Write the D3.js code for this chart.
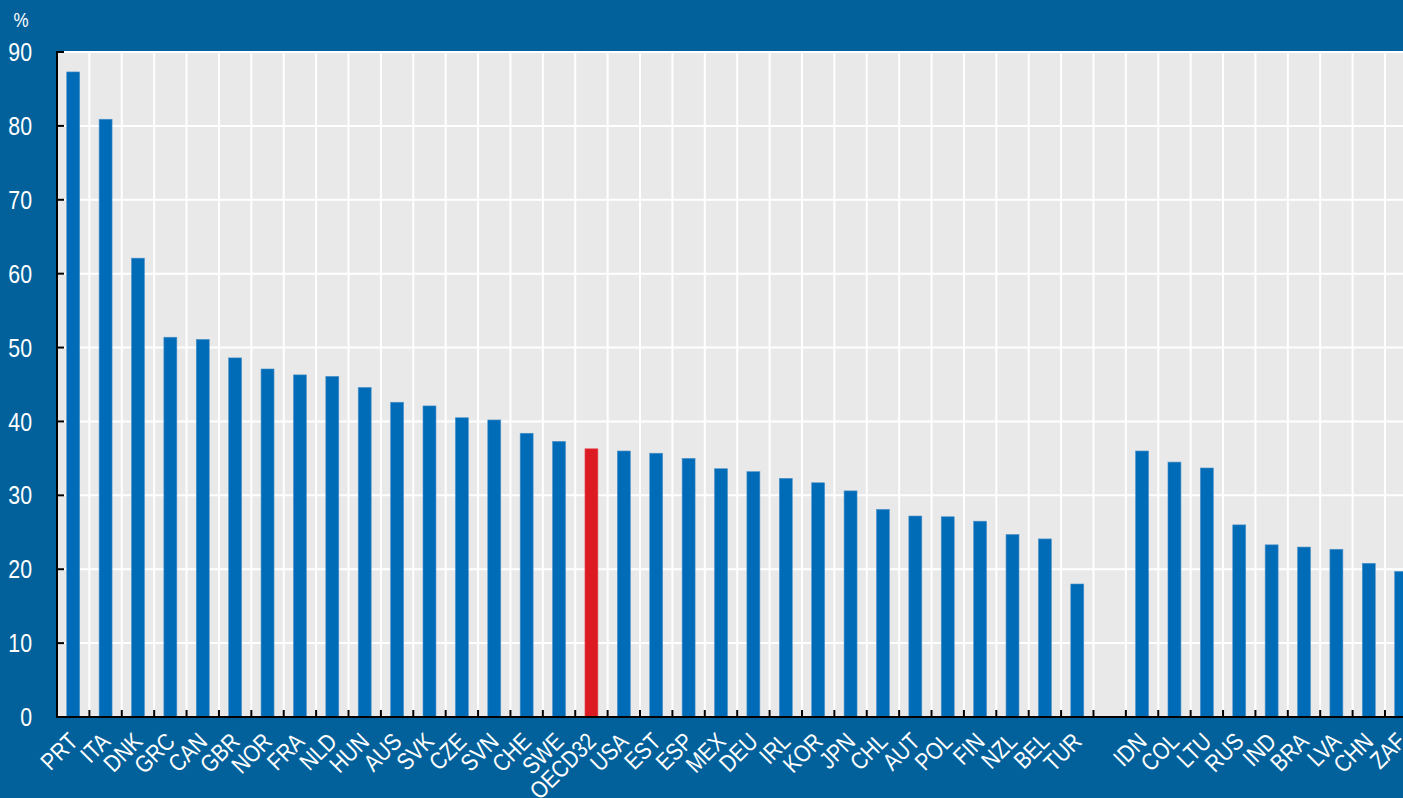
<!DOCTYPE html>
<html>
<head>
<meta charset="utf-8">
<script src="https://cdn.jsdelivr.net/npm/d3@7"></script>
<style>
  body { margin: 0; background: #02619a; overflow: hidden; }
  text { fill: #fff; font-family: "Liberation Sans", Arial, sans-serif; }
</style>
</head>
<body>
<script>
// OECD countries, sorted, with the OECD average in the middle
var oecdCountries = ["PRT","ITA","DNK","GRC","CAN","GBR","NOR","FRA","NLD","HUN","AUS","SVK","CZE","SVN","CHE","SWE","OECD32",
                     "USA","EST","ESP","MEX","DEU","IRL","KOR","JPN","CHL","AUT","POL","FIN","NZL","BEL","TUR"];
var oecdValues = [87.3,80.9,62.1,51.4,51.1,48.6,47.1,46.3,46.1,44.6,42.6,42.1,40.5,40.2,38.4,37.3,36.3,
                  36.0,35.7,35.0,33.6,33.2,32.3,31.7,30.6,28.1,27.2,27.1,26.5,24.7,24.1,18.0];
// partner economies, after a gap
var partnerCountries = ["IDN","COL","LTU","RUS","IND","BRA","LVA","CHN","ZAF"];
var partnerValues = [36.0,34.5,33.7,26.0,23.3,23.0,22.7,20.8,19.7];
var yTicks = [0,10,20,30,40,50,60,70,80,90];
var highlight = "OECD32";

var W = 1403, H = 798;
var plotLeft = 57, plotTop = 52, plotBottom = 717, band = 32.39;

var gapKey = "_gap";
var domain = oecdCountries.concat([gapKey], partnerCountries);
var data = oecdCountries.map(function(c, i){ return {c: c, v: oecdValues[i]}; })
    .concat(partnerCountries.map(function(c, i){ return {c: c, v: partnerValues[i]}; }));

var x = d3.scaleBand()
    .domain(domain)
    .range([plotLeft, plotLeft + band * domain.length])
    .padding(0);

var y = d3.scaleLinear()
    .domain([0, 90])
    .range([plotBottom, plotTop]);

var svg = d3.select("body").append("svg")
    .attr("width", W)
    .attr("height", H);

// plot background
svg.append("rect")
    .attr("x", plotLeft)
    .attr("y", plotTop)
    .attr("width", x.range()[1] - plotLeft)
    .attr("height", plotBottom - plotTop)
    .style("fill", "#e9e9e9");

// horizontal gridlines
svg.selectAll(".hgrid")
    .data(yTicks.filter(function(d){ return d > 0; }))
    .enter().append("line")
    .attr("class", "hgrid")
    .attr("x1", plotLeft).attr("x2", x.range()[1])
    .attr("y1", function(d){ return y(d); })
    .attr("y2", function(d){ return y(d); })
    .style("stroke", "#fff").style("stroke-width", 2);

// vertical gridlines at band edges
var edges = domain.slice(1).map(function(d){ return x(d); }).concat([x.range()[1]]);
svg.selectAll(".vgrid")
    .data(edges)
    .enter().append("line")
    .attr("class", "vgrid")
    .attr("x1", function(d){ return d; })
    .attr("x2", function(d){ return d; })
    .attr("y1", plotTop).attr("y2", plotBottom)
    .style("stroke", "#fff").style("stroke-width", 2);

// bars
var barW = x.bandwidth() * 0.4;
svg.selectAll(".bar")
    .data(data)
    .enter().append("rect")
    .attr("class", "bar")
    .attr("x", function(d){ return x(d.c) + (x.bandwidth() - barW) / 2; })
    .attr("y", function(d){ return y(d.v); })
    .attr("width", barW)
    .attr("height", function(d){ return y(0) - y(d.v); })
    .style("fill", function(d){ return d.c === highlight ? "#dc1a22" : "#006bb6"; })
    .style("stroke", function(d){ return d.c === highlight ? "#e6565c" : "#4b92cb"; })
    .style("stroke-width", 0.6);

// x ticks (inward, at band edges)
svg.selectAll(".xtick")
    .data(edges)
    .enter().append("line")
    .attr("class", "xtick")
    .attr("x1", function(d){ return d; })
    .attr("x2", function(d){ return d; })
    .attr("y1", plotBottom - 7).attr("y2", plotBottom)
    .style("stroke", "#000").style("stroke-width", 2);

// y ticks (inward)
svg.selectAll(".ytick")
    .data(yTicks)
    .enter().append("line")
    .attr("class", "ytick")
    .attr("x1", plotLeft).attr("x2", plotLeft + 7)
    .attr("y1", function(d){ return y(d); })
    .attr("y2", function(d){ return y(d); })
    .style("stroke", "#000").style("stroke-width", 2);

// axis lines
svg.append("line")
    .attr("x1", plotLeft).attr("x2", plotLeft)
    .attr("y1", plotTop - 1).attr("y2", plotBottom + 1)
    .style("stroke", "#000").style("stroke-width", 2);
svg.append("line")
    .attr("x1", plotLeft - 1).attr("x2", x.range()[1])
    .attr("y1", plotBottom).attr("y2", plotBottom)
    .style("stroke", "#000").style("stroke-width", 2);

// y labels (narrow look)
svg.selectAll(".ylab")
    .data(yTicks)
    .enter().append("text")
    .attr("class", "ylab")
    .attr("dy", "0.35em")
    .attr("text-anchor", "end")
    .attr("transform", function(d){ return "translate(32," + y(d) + ") scale(0.82,1)"; })
    .style("font-size", "26px")
    .text(function(d){ return d; });

svg.append("text")
    .attr("text-anchor", "middle")
    .attr("transform", "translate(21,27) scale(0.85,1)")
    .style("font-size", "20px")
    .text("%");

// x labels, rotated
svg.selectAll(".xlab")
    .data(data)
    .enter().append("text")
    .attr("class", "xlab")
    .attr("text-anchor", "end")
    .attr("transform", function(d){
        var cx = x(d.c) + x.bandwidth() / 2;
        return "translate(" + (cx + 6) + "," + (plotBottom + 26) + ") rotate(-45) scale(0.85,1)";
    })
    .style("font-size", "24px")
    .text(function(d){ return d.c; });
</script>
</body>
</html>
